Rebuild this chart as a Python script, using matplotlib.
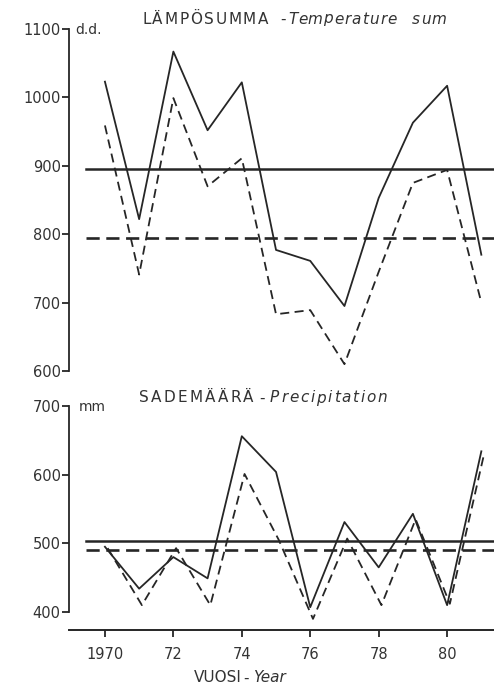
import matplotlib.pyplot as plt
import numpy as np

years = np.arange(1970, 1982)

# temperature sum (d.d.)
temp_a = [1023, 822, 1067, 952, 1022, 777, 761, 695, 853, 963, 1017, 770]
temp_b = [959, 741, 999, 870, 911, 683, 689, 610, 745, 875, 894, 700]
temp_mean_a = 895
temp_mean_b = 795

# precipitation (mm)
prec_a = [495, 434, 480, 449, 656, 604, 407, 531, 465, 543, 410, 634]
prec_b = [493, 410, 493, 410, 601, 505, 390, 507, 410, 535, 412, 630]
prec_mean_a = 504
prec_mean_b = 491

xticks = [1970, 1972, 1974, 1976, 1978, 1980]
xticklabels = ["1970", "72", "74", "76", "78", "80"]

ink = "#262626"
txt = "#333333"
W, H = 494, 687

fig = plt.figure(figsize=(W / 100, H / 100), dpi=100)
renderer = fig.canvas.get_renderer()


def px_axes(x0, y0, x1, y1):
    # pixel box (top-left origin) -> figure fraction axes
    return fig.add_axes([x0 / W, 1 - y1 / H, (x1 - x0) / W, (y1 - y0) / H])


def label(x, y, s, size=11, italic=False, ha="left"):
    fig.text(x / W, 1 - y / H, s, fontsize=size, color=txt, va="center", ha=ha,
             style="italic" if italic else "normal")


def text_w(s, size, style):
    t = fig.text(0, 0, s, fontsize=size, style=style)
    w = t.get_window_extent(renderer).width
    t.remove()
    return w


def spaced(x0, x1, y, s, size=11, italic=False):
    # letter-spaced word stretched over pixel span x0..x1
    style = "italic" if italic else "normal"
    full = text_w(s, size, style)
    gap = max((x1 - x0 - full) / max(len(s) - 1, 1), 0)
    bar = text_w("|", size, style)
    for i, ch in enumerate(s):
        off = text_w(s[:i] + "|", size, style) - bar if i else 0
        fig.text((x0 + off + i * gap) / W, 1 - y / H, ch, fontsize=size, color=txt,
                 va="center", ha="left", style=style)


xlim = (1968.95, 1981.37)

# ---- top panel
ax1 = px_axes(69, 29, 494, 371)
ax1.set_xlim(*xlim)
ax1.set_ylim(600, 1100)
ax1.plot(years, temp_a, color=ink, lw=1.3, clip_on=False)
ax1.plot(years, temp_b, color=ink, lw=1.3, ls=(0, (5, 3)), clip_on=False)
ax1.plot([1969.45, xlim[1]], [temp_mean_a] * 2, color=ink, lw=1.8)
ax1.plot([1969.45, xlim[1]], [temp_mean_b] * 2, color=ink, lw=1.9, ls=(0, (5, 2.5)))
ax1.set_yticks([600, 700, 800, 900, 1000, 1100])

# ---- bottom panel
ax2 = px_axes(69, 406, 494, 630)
ax2.set_xlim(*xlim)
ax2.set_ylim(400 - (630 - 612) / 0.687, 700)
ax2.plot(years, prec_a, color=ink, lw=1.3)
ax2.plot(years + 0.08, prec_b, color=ink, lw=1.3, ls=(0, (5, 3)))
ax2.plot([1969.45, xlim[1]], [prec_mean_a] * 2, color=ink, lw=1.8)
ax2.plot([1969.45, xlim[1]], [prec_mean_b] * 2, color=ink, lw=1.9, ls=(0, (5, 2.5)))
ax2.set_yticks([400, 500, 600, 700])
ax2.spines["left"].set_bounds(400, 700)

for ax in (ax1, ax2):
    for s in ("top", "right"):
        ax.spines[s].set_visible(False)
    ax.spines["left"].set_linewidth(1.3)
    ax.spines["left"].set_color(ink)
    ax.tick_params(axis="y", direction="out", length=5, width=1.3,
                   color=ink, labelcolor=txt, labelsize=10.5, pad=1)
    ax.patch.set_alpha(0)

ax1.spines["bottom"].set_visible(False)
ax1.set_xticks([])

ax2.spines["bottom"].set_linewidth(1.4)
ax2.spines["bottom"].set_color(ink)
ax2.set_xticks(xticks)
ax2.set_xticklabels(xticklabels)
ax2.tick_params(axis="x", direction="out", length=5, width=1.3,
                color=ink, labelcolor=txt, labelsize=10.5, pad=7)

# titles and units
spaced(142, 268, 19, "LÄMPÖSUMMA")
label(283, 19, "-", ha="center")
spaced(288, 397, 19, "Temperature", italic=True)
spaced(412, 446, 19, "sum", italic=True)
label(75, 30, "d.d.", size=10)

spaced(139, 253, 398, "SADEMÄÄRÄ")
label(262, 398, "-", ha="center")
spaced(270, 387, 398, "Precipitation", italic=True)
label(79, 407, "mm", size=10)

label(194, 678, "VUOSI")
label(246, 678, "-", ha="center")
label(253, 678, "Year", italic=True)

fig.savefig("out.png", dpi=100)
